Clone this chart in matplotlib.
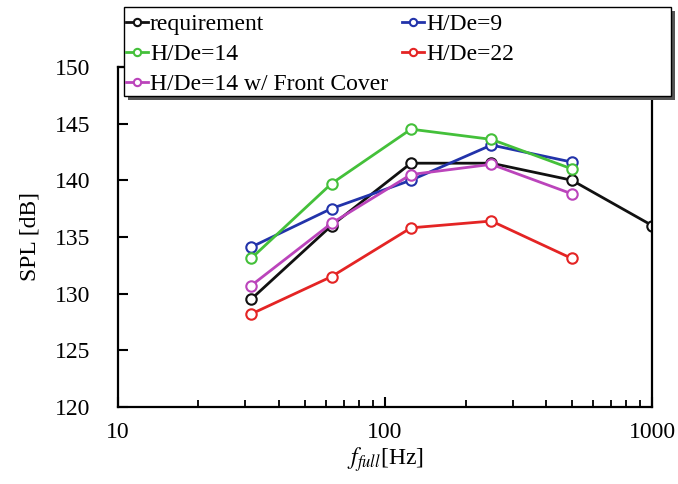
import numpy as np
import matplotlib
matplotlib.use("Agg")
import matplotlib.pyplot as plt
from matplotlib.patches import Rectangle
from matplotlib.ticker import FixedLocator, FixedFormatter, LogLocator, NullFormatter

plt.rcParams['font.family'] = ['Liberation Serif', 'DejaVu Serif']
plt.rcParams['mathtext.fontset'] = 'stix'

# Frequences centrales de bande d'octave
freq = [31.5, 63, 125, 250, 500]
freq_req = [31.5, 63, 125, 250, 500, 1000]

spl_requirement = [129.5, 136.0, 141.5, 141.5, 140.0, 136.0]
spl_hde9 = [134.1, 137.5, 140.0, 143.1, 141.6]
spl_hde14 = [133.1, 139.7, 144.5, 143.6, 141.0]
spl_hde22 = [128.2, 131.5, 135.8, 136.4, 133.1]
spl_hde14_cover = [130.7, 136.2, 140.5, 141.4, 138.8]

W, H = 678, 484
fig = plt.figure(figsize=(W / 100, H / 100), dpi=100)
ax = fig.add_axes([0.174, 0.159, 0.788, 0.703])

style = dict(marker='o', markersize=7.5, markerfacecolor='white', markeredgewidth=1.5, linewidth=2.0)
l_req, = ax.plot(freq_req, spl_requirement, color='#111111', label='requirement', **style)
l_9, = ax.plot(freq, spl_hde9, color='#2233aa', label='H/De=9', **style)
l_14, = ax.plot(freq, spl_hde14, color='#44c03a', label='H/De=14', **style)
l_22, = ax.plot(freq, spl_hde22, color='#e42424', label='H/De=22', **style)
l_cov, = ax.plot(freq, spl_hde14_cover, color='#bb44bb', label='H/De=14 w/ Front Cover', **style)

ax.set_xscale('log')
ax.set_xlim(10, 1000)
ax.set_ylim(120, 150)
ax.xaxis.set_major_locator(FixedLocator([10, 100, 1000]))
ax.xaxis.set_major_formatter(FixedFormatter(['10', '100', '1000']))
ax.xaxis.set_minor_locator(LogLocator(base=10, subs=np.arange(2, 10)))
ax.xaxis.set_minor_formatter(NullFormatter())
ax.set_yticks([120, 125, 130, 135, 140, 145, 150])

ax.tick_params(axis='both', which='major', direction='in', length=7, width=1.5, labelsize=17)
ax.tick_params(axis='x', which='major', pad=11)
ax.tick_params(axis='y', which='major', pad=20)
ax.tick_params(axis='x', which='minor', direction='in', length=5, width=1.3)
for s in ax.spines.values():
    s.set_linewidth(1.6)

ax.set_xlabel(r'$f_{full}$[Hz]', fontsize=17, labelpad=1)
ax.set_ylabel('SPL [dB]', fontsize=17, labelpad=10)

# cadre de la legende (avec ombre) dessine a la main
x0, y0, bw, bh = 124, 7, 547, 89
fig.add_artist(Rectangle(((x0 + 4) / W, 1 - (y0 + bh + 4) / H), bw / W, bh / H,
                         transform=fig.transFigure, facecolor='#555555',
                         edgecolor='none', zorder=3.8))
fig.add_artist(Rectangle((x0 / W, 1 - (y0 + bh) / H), bw / W, bh / H,
                         transform=fig.transFigure, facecolor='white',
                         edgecolor='black', linewidth=1.0, zorder=3.9))

# ordre ligne par ligne comme dans la figure
handles = [l_req, l_14, l_cov, l_9, l_22]
leg = fig.legend(handles, [h.get_label() for h in handles],
                 loc='upper left', ncol=2,
                 bbox_to_anchor=(x0 / W, 1 - (y0 + 4) / H),
                 bbox_transform=fig.transFigure,
                 fontsize=17, frameon=False, handlelength=0.9,
                 handletextpad=0.1, labelspacing=0.36, borderpad=0.1,
                 markerscale=0.7, borderaxespad=0, columnspacing=0.6)
leg.set_zorder(5)

plt.savefig('out.png', dpi=100)
